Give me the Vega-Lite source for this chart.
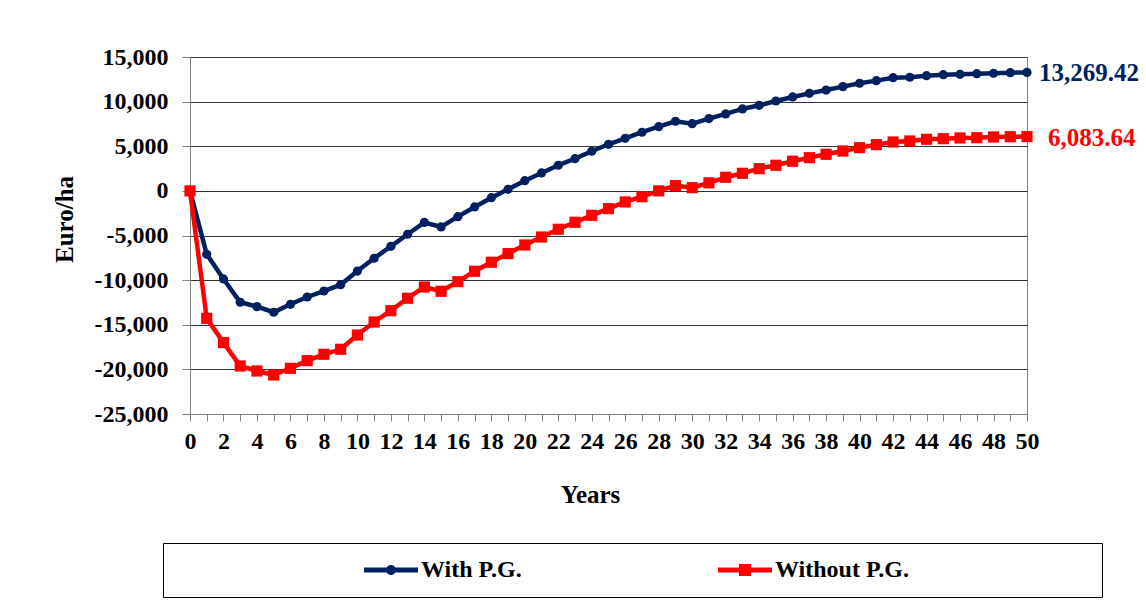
{
  "$schema": "https://vega.github.io/schema/vega-lite/v6.json",
  "width": 837,
  "height": 357,
  "autosize": {"type": "none"},
  "padding": {"left": 190, "top": 57, "right": 119, "bottom": 190},
  "background": "white",
  "config": {
    "view": {"stroke": "#808080", "strokeWidth": 1},
    "font": "Liberation Serif"
  },
  "data": {
    "values": [
      {"year": 0, "series": "With P.G.", "value": 0},
      {"year": 1, "series": "With P.G.", "value": -7100},
      {"year": 2, "series": "With P.G.", "value": -9870},
      {"year": 3, "series": "With P.G.", "value": -12480},
      {"year": 4, "series": "With P.G.", "value": -12970},
      {"year": 5, "series": "With P.G.", "value": -13600},
      {"year": 6, "series": "With P.G.", "value": -12710},
      {"year": 7, "series": "With P.G.", "value": -11890},
      {"year": 8, "series": "With P.G.", "value": -11220},
      {"year": 9, "series": "With P.G.", "value": -10510},
      {"year": 10, "series": "With P.G.", "value": -8980},
      {"year": 11, "series": "With P.G.", "value": -7550},
      {"year": 12, "series": "With P.G.", "value": -6210},
      {"year": 13, "series": "With P.G.", "value": -4860},
      {"year": 14, "series": "With P.G.", "value": -3540},
      {"year": 15, "series": "With P.G.", "value": -4040},
      {"year": 16, "series": "With P.G.", "value": -2890},
      {"year": 17, "series": "With P.G.", "value": -1800},
      {"year": 18, "series": "With P.G.", "value": -760},
      {"year": 19, "series": "With P.G.", "value": 180},
      {"year": 20, "series": "With P.G.", "value": 1140},
      {"year": 21, "series": "With P.G.", "value": 2010},
      {"year": 22, "series": "With P.G.", "value": 2870},
      {"year": 23, "series": "With P.G.", "value": 3610},
      {"year": 24, "series": "With P.G.", "value": 4440},
      {"year": 25, "series": "With P.G.", "value": 5220},
      {"year": 26, "series": "With P.G.", "value": 5890},
      {"year": 27, "series": "With P.G.", "value": 6570},
      {"year": 28, "series": "With P.G.", "value": 7190},
      {"year": 29, "series": "With P.G.", "value": 7800},
      {"year": 30, "series": "With P.G.", "value": 7530},
      {"year": 31, "series": "With P.G.", "value": 8100},
      {"year": 32, "series": "With P.G.", "value": 8620},
      {"year": 33, "series": "With P.G.", "value": 9180},
      {"year": 34, "series": "With P.G.", "value": 9590},
      {"year": 35, "series": "With P.G.", "value": 10070},
      {"year": 36, "series": "With P.G.", "value": 10520},
      {"year": 37, "series": "With P.G.", "value": 10930},
      {"year": 38, "series": "With P.G.", "value": 11300},
      {"year": 39, "series": "With P.G.", "value": 11680},
      {"year": 40, "series": "With P.G.", "value": 12060},
      {"year": 41, "series": "With P.G.", "value": 12350},
      {"year": 42, "series": "With P.G.", "value": 12680},
      {"year": 43, "series": "With P.G.", "value": 12730},
      {"year": 44, "series": "With P.G.", "value": 12910},
      {"year": 45, "series": "With P.G.", "value": 13020},
      {"year": 46, "series": "With P.G.", "value": 13060},
      {"year": 47, "series": "With P.G.", "value": 13130},
      {"year": 48, "series": "With P.G.", "value": 13180},
      {"year": 49, "series": "With P.G.", "value": 13240},
      {"year": 50, "series": "With P.G.", "value": 13269.42},
      {"year": 0, "series": "Without P.G.", "value": 0},
      {"year": 1, "series": "Without P.G.", "value": -14280},
      {"year": 2, "series": "Without P.G.", "value": -17000},
      {"year": 3, "series": "Without P.G.", "value": -19620},
      {"year": 4, "series": "Without P.G.", "value": -20180},
      {"year": 5, "series": "Without P.G.", "value": -20630},
      {"year": 6, "series": "Without P.G.", "value": -19880},
      {"year": 7, "series": "Without P.G.", "value": -19020},
      {"year": 8, "series": "Without P.G.", "value": -18310},
      {"year": 9, "series": "Without P.G.", "value": -17750},
      {"year": 10, "series": "Without P.G.", "value": -16150},
      {"year": 11, "series": "Without P.G.", "value": -14690},
      {"year": 12, "series": "Without P.G.", "value": -13420},
      {"year": 13, "series": "Without P.G.", "value": -12030},
      {"year": 14, "series": "Without P.G.", "value": -10770},
      {"year": 15, "series": "Without P.G.", "value": -11250},
      {"year": 16, "series": "Without P.G.", "value": -10170},
      {"year": 17, "series": "Without P.G.", "value": -9010},
      {"year": 18, "series": "Without P.G.", "value": -8000},
      {"year": 19, "series": "Without P.G.", "value": -7030},
      {"year": 20, "series": "Without P.G.", "value": -6060},
      {"year": 21, "series": "Without P.G.", "value": -5170},
      {"year": 22, "series": "Without P.G.", "value": -4300},
      {"year": 23, "series": "Without P.G.", "value": -3520},
      {"year": 24, "series": "Without P.G.", "value": -2740},
      {"year": 25, "series": "Without P.G.", "value": -1990},
      {"year": 26, "series": "Without P.G.", "value": -1240},
      {"year": 27, "series": "Without P.G.", "value": -650},
      {"year": 28, "series": "Without P.G.", "value": 0},
      {"year": 29, "series": "Without P.G.", "value": 590},
      {"year": 30, "series": "Without P.G.", "value": 360},
      {"year": 31, "series": "Without P.G.", "value": 900},
      {"year": 32, "series": "Without P.G.", "value": 1520},
      {"year": 33, "series": "Without P.G.", "value": 1970},
      {"year": 34, "series": "Without P.G.", "value": 2490},
      {"year": 35, "series": "Without P.G.", "value": 2870},
      {"year": 36, "series": "Without P.G.", "value": 3320},
      {"year": 37, "series": "Without P.G.", "value": 3720},
      {"year": 38, "series": "Without P.G.", "value": 4100},
      {"year": 39, "series": "Without P.G.", "value": 4470},
      {"year": 40, "series": "Without P.G.", "value": 4840},
      {"year": 41, "series": "Without P.G.", "value": 5180},
      {"year": 42, "series": "Without P.G.", "value": 5480},
      {"year": 43, "series": "Without P.G.", "value": 5590},
      {"year": 44, "series": "Without P.G.", "value": 5780},
      {"year": 45, "series": "Without P.G.", "value": 5850},
      {"year": 46, "series": "Without P.G.", "value": 5930},
      {"year": 47, "series": "Without P.G.", "value": 5960},
      {"year": 48, "series": "Without P.G.", "value": 6040},
      {"year": 49, "series": "Without P.G.", "value": 6070},
      {"year": 50, "series": "Without P.G.", "value": 6083.64}
    ]
  },
  "encoding": {
    "x": {
      "field": "year",
      "type": "quantitative",
      "scale": {"domain": [0, 50], "nice": false, "zero": false},
      "axis": {
        "values": [0,1,2,3,4,5,6,7,8,9,10,11,12,13,14,15,16,17,18,19,20,21,22,23,24,25,26,27,28,29,30,31,32,33,34,35,36,37,38,39,40,41,42,43,44,45,46,47,48,49,50],
        "labelExpr": "datum.value % 2 === 0 ? datum.label : ''",
        "grid": false,
        "domainColor": "#808080",
        "tickColor": "#808080",
        "tickSize": 7,
        "labelFont": "Liberation Serif",
        "labelFontWeight": "bold",
        "labelFontSize": 24,
        "labelColor": "#000000",
        "labelPadding": 8,
        "labelFlush": false,
        "labelOverlap": false,
        "title": "Years",
        "titleFont": "Liberation Serif",
        "titleFontWeight": "bold",
        "titleFontSize": 25,
        "titleColor": "#000000",
        "titleX": 400,
        "titleY": 88,
        "titleAlign": "center",
        "titleBaseline": "alphabetic"
      }
    },
    "y": {
      "field": "value",
      "type": "quantitative",
      "scale": {"domain": [-25000, 15000], "nice": false, "zero": false},
      "axis": {
        "values": [-25000, -20000, -15000, -10000, -5000, 0, 5000, 10000, 15000],
        "format": ",d",
        "labelExpr": "replace(datum.label, '\u2212', '-')",
        "grid": true,
        "gridColor": "#333333",
        "gridWidth": 1,
        "domainColor": "#808080",
        "tickColor": "#808080",
        "tickSize": 8,
        "labelFont": "Liberation Serif",
        "labelFontWeight": "bold",
        "labelFontSize": 24,
        "labelColor": "#000000",
        "labelPadding": 14,
        "labelOverlap": false,
        "title": "Euro/ha",
        "titleFont": "Liberation Serif",
        "titleFontWeight": "bold",
        "titleFontSize": 25,
        "titleColor": "#000000",
        "titleAngle": 270,
        "titleX": -118,
        "titleY": 162,
        "titleAlign": "center",
        "titleBaseline": "alphabetic"
      }
    },
    "color": {
      "field": "series",
      "type": "nominal",
      "scale": {"domain": ["With P.G.", "Without P.G."], "range": ["#002060", "#FF0000"]},
      "legend": {
        "orient": "none",
        "legendX": -27,
        "legendY": 486,
        "direction": "horizontal",
        "columns": 2,
        "padding": 15,
        "strokeColor": "#000000",
        "fillColor": "#ffffff",
        "symbolSize": 400,
        "symbolStrokeWidth": 0,
        "symbolOffset": 201,
        "labelOffset": 18,
        "columnPadding": 10,
        "labelFont": "Liberation Serif",
        "labelFontWeight": "bold",
        "labelFontSize": 24,
        "labelColor": "#000000",
        "labelLimit": 400,
        "title": "\u00a0",
        "titleOrient": "right",
        "titleFontSize": 1,
        "titlePadding": 178
      }
    }
  },
  "layer": [
    {
      "mark": {"type": "line", "strokeWidth": 4.5},
      "encoding": {}
    },
    {
      "transform": [{"filter": "datum.series === 'With P.G.'"}],
      "mark": {"type": "point", "filled": true, "opacity": 1, "shape": "circle", "size": 85}
    },
    {
      "transform": [{"filter": "datum.series === 'Without P.G.'"}],
      "mark": {"type": "point", "filled": true, "opacity": 1, "shape": "square", "size": 125}
    },
    {
      "transform": [{"filter": "false"}],
      "mark": {"type": "point", "filled": true, "opacity": 1, "size": 400},
      "encoding": {
        "shape": {
          "field": "series",
          "type": "nominal",
          "scale": {"domain": ["With P.G.", "Without P.G."], "range": ["M-2.7,-0.25H2.7V0.25H-2.7Z M0.5,0A0.5,0.5 0 1 1 -0.5,0A0.5,0.5 0 1 1 0.5,0Z", "M-2.7,-0.25H2.7V0.25H-2.7Z M-0.6,-0.6H0.6V0.6H-0.6Z"]}
        }
      }
    },
    {
      "transform": [{"filter": "datum.year === 50 && datum.series === 'With P.G.'"}],
      "mark": {"type": "text", "align": "left", "baseline": "middle", "dx": 12, "dy": 1, "font": "Liberation Serif", "fontWeight": "bold", "fontSize": 25},
      "encoding": {"text": {"field": "value", "type": "quantitative", "format": ",.2f"}}
    },
    {
      "transform": [{"filter": "datum.year === 50 && datum.series === 'Without P.G.'"}],
      "mark": {"type": "text", "align": "left", "baseline": "middle", "dx": 21, "dy": 1, "font": "Liberation Serif", "fontWeight": "bold", "fontSize": 25},
      "encoding": {"text": {"field": "value", "type": "quantitative", "format": ",.2f"}}
    }
  ]
}
